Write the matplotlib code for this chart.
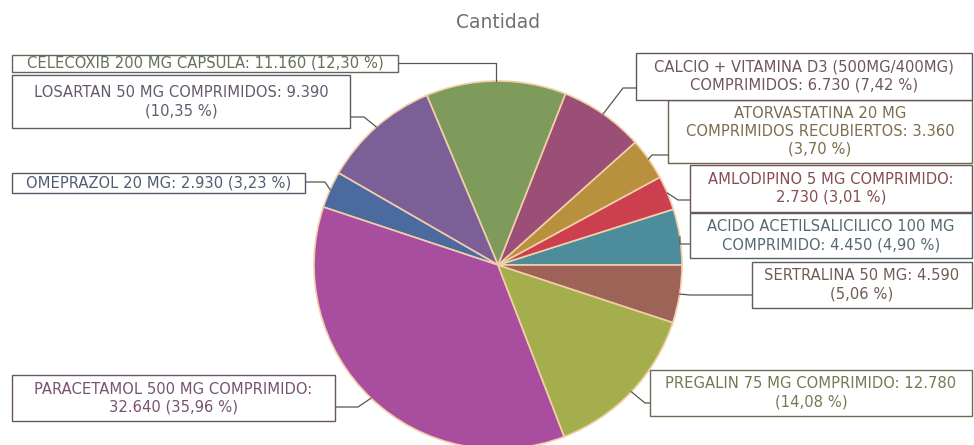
import numpy as np
import matplotlib.pyplot as plt
from matplotlib.colors import to_rgb

# data (alphabetical, drawn counter-clockwise from 3 o'clock)
values = [4450, 2730, 3360, 6730, 11160, 9390, 2930, 32640, 12780, 4590]
label_text = [
    'ACIDO ACETILSALICILICO 100 MG\nCOMPRIMIDO: 4.450 (4,90 %)',
    'AMLODIPINO 5 MG COMPRIMIDO:\n2.730 (3,01 %)',
    'ATORVASTATINA 20 MG\nCOMPRIMIDOS RECUBIERTOS: 3.360\n(3,70 %)',
    'CALCIO + VITAMINA D3 (500MG/400MG)\nCOMPRIMIDOS: 6.730 (7,42 %)',
    'CELECOXIB 200 MG CAPSULA: 11.160 (12,30 %)',
    'LOSARTAN 50 MG COMPRIMIDOS: 9.390\n(10,35 %)',
    'OMEPRAZOL 20 MG: 2.930 (3,23 %)',
    'PARACETAMOL 500 MG COMPRIMIDO:\n32.640 (35,96 %)',
    'PREGALIN 75 MG COMPRIMIDO: 12.780\n(14,08 %)',
    'SERTRALINA 50 MG: 4.590\n(5,06 %)',
]
colors = ['#4d8c9a', '#cc3f4e', '#b8903e', '#9b4f76', '#7e9b5c',
          '#7d5f98', '#4b6aa0', '#a94e9e', '#a5ae4c', '#9c6356']

# label boxes: left, top, right, bottom (pixels from top-left), side of leader, elbow x
boxes = [
    (690, 213, 972, 258, 'left', 680),
    (690, 165, 972, 212, 'left', 678),
    (668, 100, 972, 163, 'left', 652),
    (636, 53, 972, 100, 'left', 623),
    (12, 55, 398, 72, 'right', None),
    (12, 75, 350, 128, 'right', 364),
    (12, 173, 305, 193, 'right', 325),
    (12, 375, 335, 421, 'right', 358),
    (650, 370, 972, 416, 'left', 645),
    (752, 262, 972, 308, 'left', 690),
]
attach_y = [244, 200, 155, 88, 63, 117, 182, 407, 403, 295]

W, H = 974, 445
cx, cy, r = 498, 265, 184

fig = plt.figure(figsize=(W / 100, H / 100), dpi=100)
ax = fig.add_axes([0, 0, 1, 1])

wedges, _ = ax.pie(values, colors=colors, startangle=0, counterclock=True,
                   center=(cx, H - cy), radius=r,
                   wedgeprops=dict(edgecolor='#f2cfa8', linewidth=1.2))
ax.set_xlim(0, W)
ax.set_ylim(0, H)
ax.set_aspect('equal')
ax.axis('off')

ax.text(cx, H - 22, 'Cantidad', ha='center', va='center', fontsize=13.5, color='#707070')


def mix(c, k=0.6):
    c = np.array(to_rgb(c))
    g = np.array(to_rgb('#555555'))
    return tuple(c * (1 - k) + g * k)


for w, txt, col, b, ay in zip(wedges, label_text, colors, boxes, attach_y):
    left, top, right, bottom, side, ex = b
    ang = np.deg2rad((w.theta1 + w.theta2) / 2)
    px = cx + r * np.cos(ang)
    py = cy - r * np.sin(ang)
    bx = left if side == 'left' else right
    xs = [px, px if ex is None else ex, bx]
    ys = [py, ay, ay]
    ax.plot(xs, [H - v for v in ys], color='#555555', lw=0.9, zorder=3)
    ax.add_patch(plt.Rectangle((left, H - bottom), right - left, bottom - top,
                               facecolor='white', edgecolor=mix(col, 0.75), lw=1.0, zorder=4))
    ax.text((left + right) / 2, H - (top + bottom) / 2, txt, ha='center', va='center',
            fontsize=10.6, color=mix(col), linespacing=1.25, zorder=5)

fig.savefig('out.png', dpi=100)
